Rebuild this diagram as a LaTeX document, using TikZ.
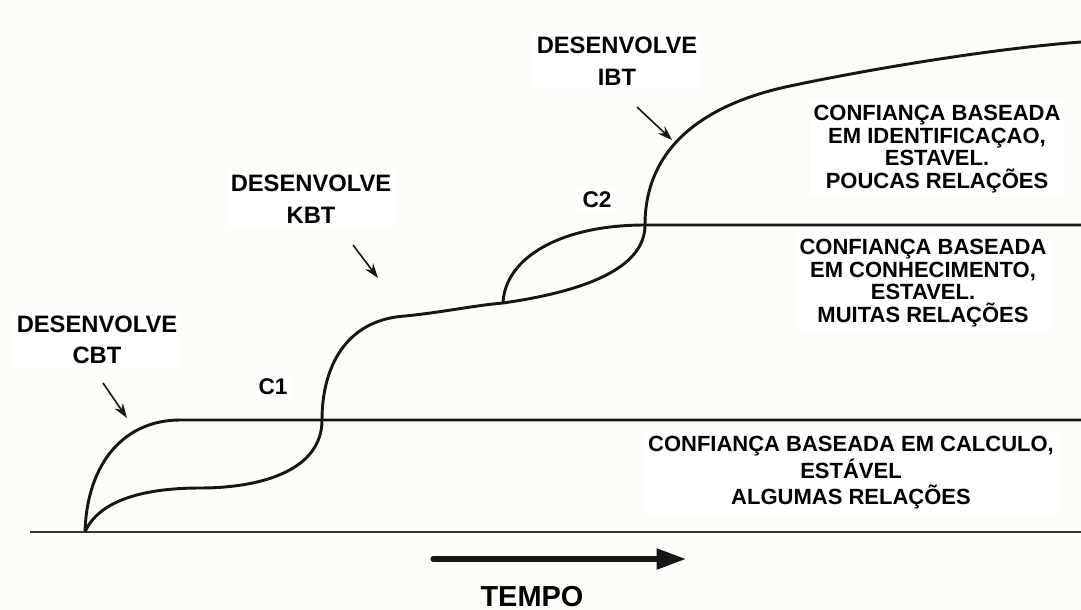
\documentclass[tikz,border=0pt]{standalone}
\usepackage{fontspec}
\setmainfont{Liberation Sans}
\usetikzlibrary{arrows.meta}
\definecolor{paper}{RGB}{254,252,249}
\definecolor{ink}{RGB}{22,22,22}
\begin{document}
\begin{tikzpicture}[x=0.75pt,y=-0.75pt,
  curve/.style={draw=ink,line width=2.2pt},
  axisline/.style={draw=ink!85,line width=1.5pt},
  pointer/.style={draw=ink,line width=1.2pt,-{Stealth[length=11pt,width=7.5pt]}},
  devlabel/.style={fill=white,align=center,inner sep=3pt,font=\fontsize{17.8}{23.6}\selectfont\bfseries},
  crosslabel/.style={fill=white,inner sep=3pt,font=\fontsize{17}{20}\selectfont\bfseries},
  zonetext/.style={fill=white,align=center,inner sep=3pt,font=\fontsize{16.5}{17}\selectfont\bfseries},
  timearrow/.style={draw=ink,line width=3.8pt,line cap=round,-{Triangle[length=22pt,width=15pt]}}]
  \useasboundingbox (0,0) rectangle (1081,610);
  \fill[paper] (0,0) rectangle (1081,610);

  % labels
  \node[devlabel] (cbt) at (97,340) {DESENVOLVE\\CBT};
  \node[devlabel] (kbt) at (311,199) {DESENVOLVE\\KBT};
  \node[devlabel] (ibt) at (617,61) {DESENVOLVE\\IBT};
  \node[crosslabel] (c1) at (273,387) {C1};
  \node[crosslabel] (c2) at (597,200) {C2};
  \node[zonetext] (zone3) at (937,149) {CONFIANÇA BASEADA\\EM IDENTIFICAÇAO,\\ESTAVEL.\\POUCAS RELAÇÕES};
  \node[zonetext] (zone2) at (923,283) {CONFIANÇA BASEADA\\EM CONHECIMENTO,\\ESTAVEL.\\MUITAS RELAÇÕES};
  \node[zonetext,font=\fontsize{16.5}{19.9}\selectfont\bfseries] (zone1) at (851,473) {CONFIANÇA BASEADA EM CALCULO,\\ESTÁVEL\\ALGUMAS RELAÇÕES};
  \node[font=\fontsize{21.7}{24}\selectfont\bfseries,inner sep=0pt,anchor=base] (tempo) at (532,606) {TEMPO};

  % key points of the curves
  \coordinate (origin) at (85,532);
  \coordinate (axisstart) at (30,532);
  \coordinate (axisend) at (1081,532);
  \coordinate (cbtflat) at (180,420);
  \coordinate (c1end) at (1081,420);
  \coordinate (split) at (503,303);
  \coordinate (c2cross) at (645,225);
  \coordinate (c2end) at (1081,225);
  \coordinate (ibtend) at (1081,42);

  % time axis
  \draw[axisline] (axisstart) -- (axisend);

  % calculus-based trust: rises quickly, then stable
  \draw[curve] (origin) .. controls (87,462) and (125,420) .. (cbtflat) -- (c1end);

  % knowledge-based and identification-based trust development
  \draw[curve] (origin) .. controls (98,502) and (140,488) .. (200,488)
    .. controls (262,488) and (322,470) .. (322,420)
    .. controls (322,368) and (345,320) .. (405,316)
    .. controls (445,312) and (470,306) .. (split)
    .. controls (580,292) and (645,270) .. (c2cross)
    .. controls (645,150) and (700,105) .. (790,86)
    .. controls (880,67) and (1000,48) .. (ibtend);

  % knowledge-based plateau
  \draw[curve] (split) .. controls (505,258) and (560,225) .. (c2cross) -- (c2end);

  % pointers
  \coordinate (cbtfrom) at (103,383);
  \coordinate (cbtto) at (127,418);
  \coordinate (kbtfrom) at (353,245);
  \coordinate (kbtto) at (378,278);
  \coordinate (ibtfrom) at (637,107);
  \coordinate (ibtto) at (672,140);
  \draw[pointer] (cbtfrom) -- (cbtto);
  \draw[pointer] (kbtfrom) -- (kbtto);
  \draw[pointer] (ibtfrom) -- (ibtto);

  % time arrow
  \coordinate (tfrom) at (433,559);
  \coordinate (tto) at (686,559);
  \draw[timearrow] (tfrom) -- (tto);
\end{tikzpicture}
\end{document}
